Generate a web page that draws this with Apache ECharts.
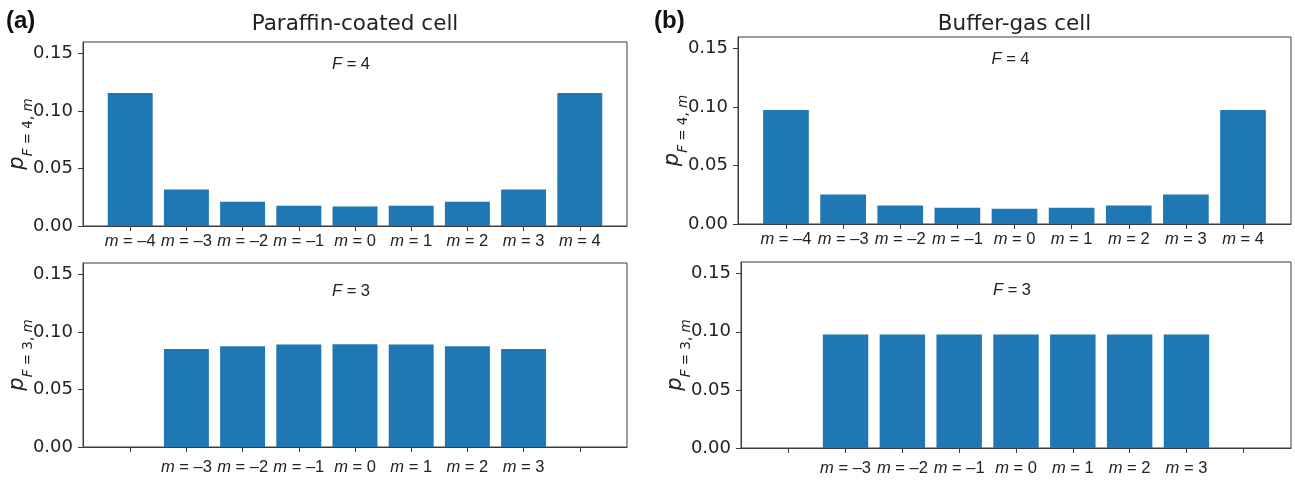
<!DOCTYPE html>
<html>
<head>
<meta charset="utf-8">
<script src="https://cdn.jsdelivr.net/npm/echarts@6/dist/echarts.min.js"></script>
<style>
  html, body { margin: 0; padding: 0; background: #fff; }
  #chart { width: 1295px; height: 481px; }
</style>
</head>
<body>
<div id="chart"></div>
<script>
// m sublevels and populations
var mAll = [-4, -3, -2, -1, 0, 1, 2, 3, 4];
var mF3 = [-3, -2, -1, 0, 1, 2, 3];
var paraffinF4 = [0.1156, 0.0318, 0.0211, 0.0177, 0.0169, 0.0177, 0.0211, 0.0318, 0.1156];
var paraffinF3 = [0.0853, 0.0876, 0.0891, 0.0894, 0.0891, 0.0876, 0.0853];
var bufferF4 = [0.0975, 0.0253, 0.0159, 0.0139, 0.0131, 0.0139, 0.0159, 0.0253, 0.0975];
var bufferF3 = [0.0977, 0.0977, 0.0977, 0.0977, 0.0977, 0.0977, 0.0977];
var yTicks = [0, 0.05, 0.10, 0.15];
var cellTitles = ['Paraffin-coated cell', 'Buffer-gas cell'];
var panelTags = ['(a)', '(b)'];

var TXT = '#222';
var LINE = '#3c3c3c';
var BAR = '#1f77b4';

var chart = echarts.init(document.getElementById('chart'));

// one entry per panel: grid box, F level, data
var panels = [
    {grid: {left: 83, top: 42, width: 544, height: 184}, F: 4, ms: mAll, vals: paraffinF4, lblMargin: 7},
    {grid: {left: 83, top: 263, width: 544, height: 184}, F: 3, ms: mF3, vals: paraffinF3, lblMargin: 12},
    {grid: {left: 738, top: 37, width: 553, height: 187}, F: 4, ms: mAll, vals: bufferF4, lblMargin: 7},
    {grid: {left: 741, top: 262, width: 550, height: 186}, F: 3, ms: mF3, vals: bufferF3, lblMargin: 12}
];

function mLabel(v) {
    return '{i|m} = ' + (v < 0 ? '\u2013' + (-v) : v);
}

var grids = [], xAxes = [], yAxes = [], series = [], graphics = [];

panels.forEach(function (p, i) {
    grids.push({
        left: p.grid.left, top: p.grid.top, width: p.grid.width, height: p.grid.height,
        show: true, borderColor: LINE, borderWidth: 1, backgroundColor: 'transparent'
    });
    xAxes.push({
        type: 'value', gridIndex: i, min: -4.84, max: 4.84,
        axisLine: {show: true, onZero: false, lineStyle: {color: LINE, width: 1}},
        axisTick: {show: true, customValues: mAll, length: 5, lineStyle: {color: LINE}},
        axisLabel: {
            customValues: p.ms, formatter: mLabel, margin: p.lblMargin,
            color: TXT, fontSize: 16.5, fontFamily: 'Liberation Sans',
            rich: {i: {fontStyle: 'italic', fontSize: 16.5, fontFamily: 'Liberation Sans', color: TXT}}
        },
        splitLine: {show: false}
    });
    yAxes.push({
        type: 'value', gridIndex: i, min: 0, max: 0.16, position: 'left',
        axisLine: {show: true, onZero: false, lineStyle: {color: LINE, width: 1}},
        axisTick: {show: true, customValues: yTicks, length: 5, lineStyle: {color: LINE}},
        axisLabel: {
            customValues: yTicks, formatter: function (v) { return v.toFixed(2); },
            margin: 10, color: TXT, fontSize: 18, fontFamily: 'DejaVu Sans'
        },
        splitLine: {show: false},
        name: '{p|p}{si|F}{s| = ' + p.F + ', }{si|m}',
        nameLocation: 'middle', nameRotate: 90, nameGap: 48, nameMoveOverlap: false,
        nameTextStyle: {
            color: TXT,
            rich: {
                p: {fontSize: 21, fontStyle: 'italic', fontFamily: 'DejaVu Sans', color: TXT, padding: [0, 0, 7, 0], verticalAlign: 'bottom'},
                si: {fontSize: 13.5, fontStyle: 'italic', fontFamily: 'DejaVu Sans', color: TXT, padding: [7, 0, 0, 0], verticalAlign: 'bottom'},
                s: {fontSize: 13.5, fontFamily: 'DejaVu Sans', color: TXT, padding: [7, 0, 0, 0], verticalAlign: 'bottom'}
            }
        }
    });
    series.push({
        type: 'bar', xAxisIndex: i, yAxisIndex: i,
        barWidth: '80%',
        itemStyle: {color: BAR},
        data: p.ms.map(function (m, k) { return [m, p.vals[k]]; })
    });
    // F = ... label inside the panel
    graphics.push({
        type: 'text',
        x: p.grid.left + p.grid.width / 2 - 4,
        y: p.grid.top + (p.F === 4 ? 22 : 28),
        style: {
            text: '{i|F} = ' + p.F, fill: TXT, align: 'center', verticalAlign: 'middle',
            fontSize: 16.5, fontFamily: 'Liberation Sans',
            rich: {i: {fontStyle: 'italic', fontSize: 16.5, fontFamily: 'Liberation Sans', fill: TXT}}
        }
    });
});

// column titles and panel tags
[0, 1].forEach(function (c) {
    var g = panels[c * 2].grid;
    graphics.push({
        type: 'text', x: g.left + g.width / 2, y: 24,
        style: {text: cellTitles[c], fill: TXT, align: 'center', verticalAlign: 'middle', fontSize: 21.5, fontFamily: 'DejaVu Sans'}
    });
    graphics.push({
        type: 'text', x: c === 0 ? 6 : 654, y: 21,
        style: {text: panelTags[c], fill: '#111', align: 'left', verticalAlign: 'middle', fontSize: 24, fontWeight: 'bold', fontFamily: 'Liberation Sans'}
    });
});

chart.setOption({
    animation: false,
    grid: grids,
    xAxis: xAxes,
    yAxis: yAxes,
    series: series,
    graphic: graphics
});
</script>
</body>
</html>
